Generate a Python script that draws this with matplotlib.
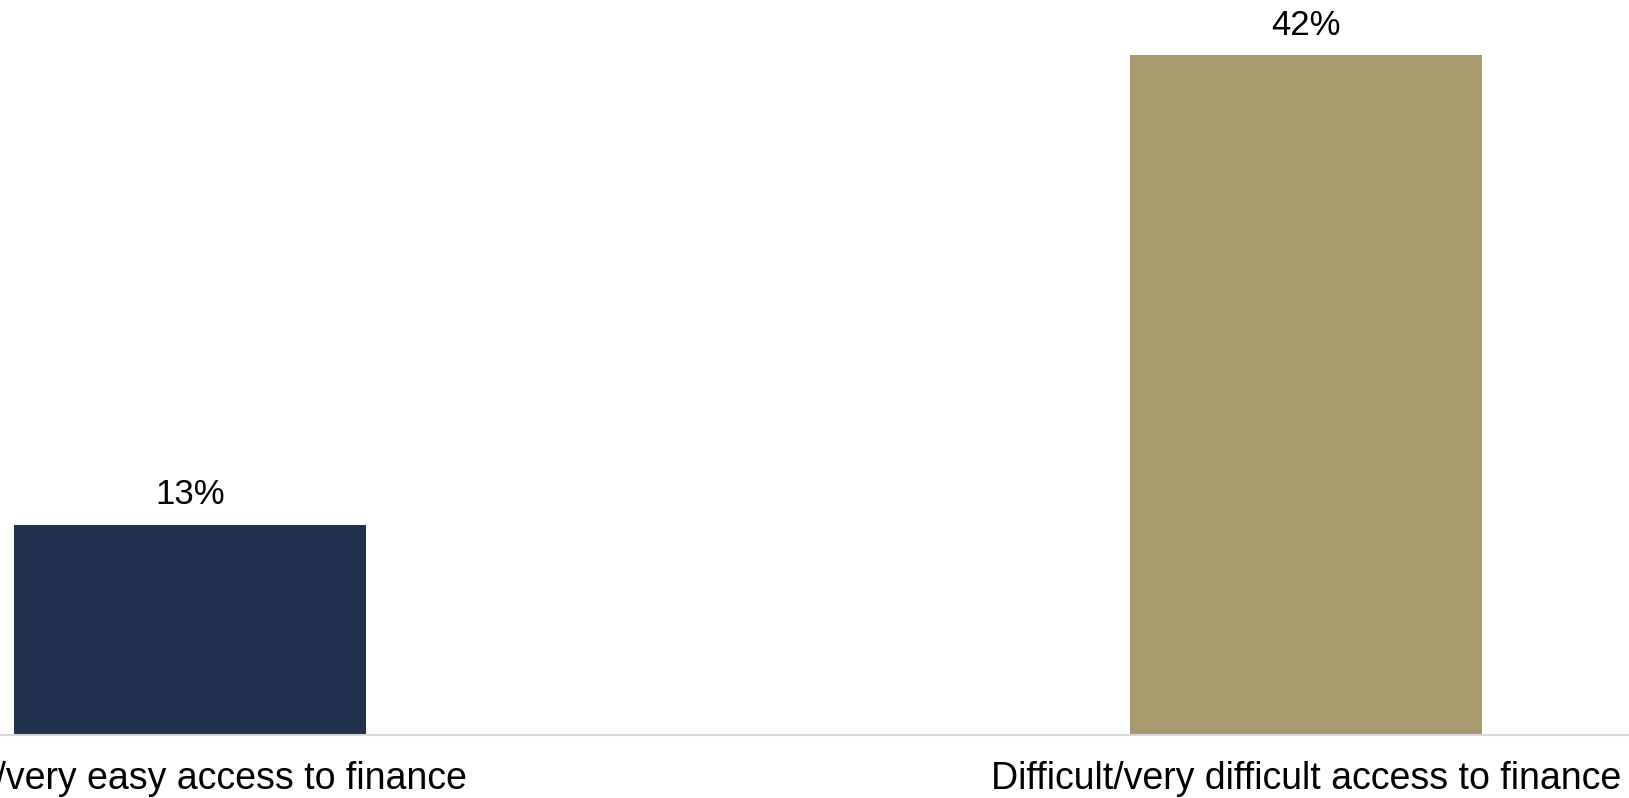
import matplotlib.pyplot as plt

categories = ["Easy/very easy access to finance", "Difficult/very difficult access to finance"]
values = [13, 42]
colors = ["#22314e", "#a9996e"]

plt.rcParams['font.family'] = ['Liberation Sans', 'DejaVu Sans']

fig = plt.figure(figsize=(16.29, 7.98), dpi=100)
ax = fig.add_axes([0, 63 / 798, 1, 735 / 798])

x = range(len(categories))
bars = ax.bar(x, values, width=0.315, color=colors)

# value labels above bars
for b, v in zip(bars, values):
    ax.annotate(f"{v}%", (b.get_x() + b.get_width() / 2, v),
                xytext=(0, 14.5), textcoords='offset points',
                ha='center', va='baseline', fontsize=25)

ax.set_xlim(-0.170, 1.289)
ax.set_ylim(0, 45.4)
ax.set_xticks(list(x))
ax.set_xticklabels(categories, fontsize=27)
ax.tick_params(axis='x', length=0, pad=19)
ax.set_yticks([])

for s in ['top', 'right', 'left']:
    ax.spines[s].set_visible(False)
ax.spines['bottom'].set_color('#d9d9d9')
ax.spines['bottom'].set_linewidth(1.5)

fig.savefig('out.png', dpi=100)
